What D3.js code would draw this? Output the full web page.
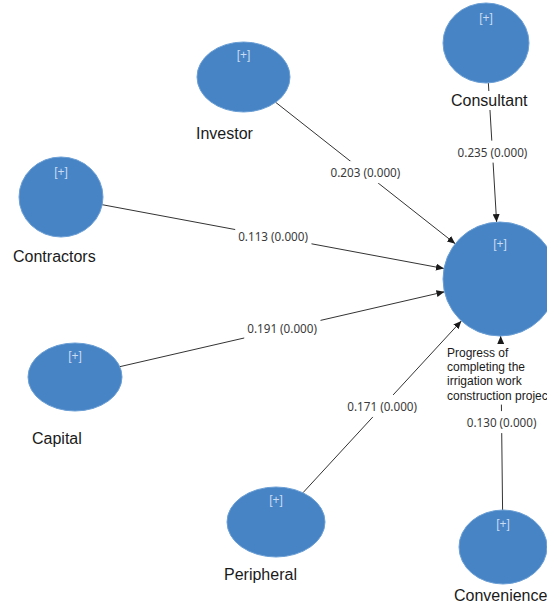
<!DOCTYPE html>
<html>
<head>
<meta charset="utf-8">
<script src="https://cdn.jsdelivr.net/npm/d3@7"></script>
<style>
  body { margin: 0; background: #fff; overflow: hidden; }
  .nodeLabel { font-family: "Liberation Sans", Arial, sans-serif; font-size: 16px; fill: #1a1a1a; }
  .targetLabel { font-family: "Liberation Sans", Arial, sans-serif; font-size: 12px; fill: #1a1a1a; }
  .coefLabel { font-family: "Noto Sans", "Open Sans", sans-serif; font-size: 11.7px; fill: #3a3a3a; }
  .plus { font-family: "Liberation Sans", Arial, sans-serif; font-size: 12px; fill: #c9dcf1; }
</style>
</head>
<body>
<div id="model"></div>
<script>
// chart data
var constructs = ["Investor", "Consultant", "Contractors", "Capital", "Peripheral", "Convenience"];
var pathCoefficients = [0.203, 0.235, 0.113, 0.191, 0.171, 0.130];
var pValues = [0.000, 0.000, 0.000, 0.000, 0.000, 0.000];
var targetLines = ["Progress of", "completing the", "irrigation work", "construction project"];

// diagram layout (positions of the latent variables and their captions)
var layout = [
    { cx: 243.5, cy: 77, rx: 46.5, ry: 35, lx: 196, ly: 139 },
    { cx: 486, cy: 43, rx: 43, ry: 40, lx: 451, ly: 106 },
    { cx: 61, cy: 197, rx: 42, ry: 40, lx: 13, ly: 262 },
    { cx: 75, cy: 377, rx: 47, ry: 34, lx: 32, ly: 444 },
    { cx: 276, cy: 522, rx: 49, ry: 35, lx: 224, ly: 580 },
    { cx: 503, cy: 547, rx: 44, ry: 37, lx: 454, ly: 601 }
];
var targetLayout = { cx: 500, cy: 279, rx: 57, ry: 57, lx: 447, ly: 357, lineHeight: 14.2 };

var svgWidth = 547;
var svgHeight = 604;
var fmt = d3.format(".3f");

var svg = d3.select("#model")
    .append("svg")
    .attr("width", svgWidth)
    .attr("height", svgHeight);

// arrow head
svg.append("defs").append("marker")
    .attr("id", "arrow")
    .attr("viewBox", "0 0 8 7")
    .attr("refX", 8)
    .attr("refY", 3.5)
    .attr("markerWidth", 8)
    .attr("markerHeight", 7)
    .attr("markerUnits", "userSpaceOnUse")
    .attr("orient", "auto")
    .append("path")
    .attr("d", "M0,0 L8,3.5 L0,7 z")
    .attr("fill", "#1a1a1a");

// point where a ray from the centre of an ellipse leaves it
function ellipseEdge(n, dx, dy) {
    var t = 1 / Math.sqrt((dx / n.rx) * (dx / n.rx) + (dy / n.ry) * (dy / n.ry));
    return [n.cx + dx * t, n.cy + dy * t];
}

var paths = constructs.map(function(name, i) {
    var n = layout[i];
    var dx = targetLayout.cx - n.cx;
    var dy = targetLayout.cy - n.cy;
    var start = ellipseEdge(n, dx, dy);
    var end = ellipseEdge(targetLayout, -dx, -dy);
    return {
        name: name,
        coef: pathCoefficients[i],
        p: pValues[i],
        x1: start[0], y1: start[1],
        x2: end[0], y2: end[1]
    };
});

// path lines
svg.append("g")
    .selectAll("line")
    .data(paths)
    .enter()
    .append("line")
    .attr("x1", d => d.x1)
    .attr("y1", d => d.y1)
    .attr("x2", d => d.x2)
    .attr("y2", d => d.y2)
    .attr("stroke", "#333")
    .attr("stroke-width", 1)
    .attr("marker-end", "url(#arrow)");

// latent variables
var nodes = layout.concat([targetLayout]);
svg.append("g")
    .selectAll("ellipse")
    .data(nodes)
    .enter()
    .append("ellipse")
    .attr("cx", d => d.cx)
    .attr("cy", d => d.cy)
    .attr("rx", d => d.rx)
    .attr("ry", d => d.ry)
    .attr("fill", "#4784c6")
    .attr("stroke", "#6b9fd5")
    .attr("stroke-width", 1);

svg.append("g")
    .selectAll("text")
    .data(nodes)
    .enter()
    .append("text")
    .attr("class", "plus")
    .attr("x", d => d.cx)
    .attr("y", d => d.cy - d.ry * 0.62 + 4)
    .attr("text-anchor", "middle")
    .text("[+]");

// adds a white box behind a text element
function backBox(textSel, pad) {
    textSel.each(function() {
        var b = this.getBBox();
        d3.select(this.parentNode).insert("rect", function() { return this; }.bind(this))
            .attr("x", b.x - pad)
            .attr("y", b.y - pad)
            .attr("width", b.width + pad * 2)
            .attr("height", b.height + pad * 2)
            .attr("fill", "#fff");
    });
}

// captions of the exogenous constructs
var captions = svg.append("g")
    .selectAll("g")
    .data(paths)
    .enter()
    .append("g");
var captionText = captions.append("text")
    .attr("class", "nodeLabel")
    .attr("x", (d, i) => layout[i].lx)
    .attr("y", (d, i) => layout[i].ly)
    .text(d => d.name);
backBox(captionText, 1);

// caption of the target construct (runs past the right edge, as in the source)
var targetGroup = svg.append("g");
var targetText = targetGroup.append("text")
    .attr("class", "targetLabel");
targetText.selectAll("tspan")
    .data(targetLines)
    .enter()
    .append("tspan")
    .attr("x", targetLayout.lx)
    .attr("y", (d, i) => targetLayout.ly + i * targetLayout.lineHeight)
    .text(d => d);
backBox(targetText, 2);

// path coefficient labels at the middle of each line
var coefGroups = svg.append("g")
    .selectAll("g")
    .data(paths)
    .enter()
    .append("g");
var coefText = coefGroups.append("text")
    .attr("class", "coefLabel")
    .attr("x", d => (d.x1 + d.x2) / 2)
    .attr("y", d => (d.y1 + d.y2) / 2)
    .attr("dy", "0.35em")
    .attr("text-anchor", "middle")
    .text(d => `${fmt(d.coef)} (${fmt(d.p)})`);
backBox(coefText, 3);
</script>
</body>
</html>
